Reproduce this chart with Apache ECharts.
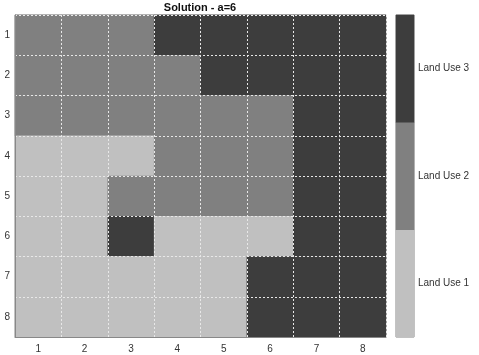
<!DOCTYPE html>
<html><head><meta charset="utf-8">
<script src="https://cdn.jsdelivr.net/npm/echarts@6/dist/echarts.min.js"></script>
<style>html,body{margin:0;padding:0;background:#fff}#c{width:479px;height:355px}</style>
</head><body><div id="c"></div>
<script>
const cols = ['1','2','3','4','5','6','7','8'];
const rows = ['1','2','3','4','5','6','7','8'];
// land use per row (row 1 at top), per column
const landUse = [
  [2,2,2,3,3,3,3,3],
  [2,2,2,2,3,3,3,3],
  [2,2,2,2,2,2,3,3],
  [1,1,1,2,2,2,3,3],
  [1,1,2,2,2,2,3,3],
  [1,1,3,1,1,1,3,3],
  [1,1,1,1,1,3,3,3],
  [1,1,1,1,1,3,3,3]
];
const levels = [1,2,3];
const levelNames = ['Land Use 1','Land Use 2','Land Use 3'];
const levelColors = ['#c0c0c0','#808080','#3d3d3d'];

const cells = [];
landUse.forEach((r,i)=>r.forEach((v,j)=>cells.push([j,i,v])));
const barCells = levels.map((v,i)=>[0,i,v]);

const font = 'Liberation Sans';
const chart = echarts.init(document.getElementById('c'));
chart.setOption({
  animation:false,
  title:{text:'Solution - a=6',left:200,top:2,padding:0,textAlign:'center',textStyle:{fontFamily:font,fontSize:11,fontWeight:'bold',color:'#111'}},
  visualMap:{type:'piecewise',show:false,seriesIndex:[0,1],
    pieces:levels.map((v,i)=>({value:v,color:levelColors[i]}))},
  grid:[
    {left:15,top:15,width:371,height:322,show:true,borderColor:'#888',borderWidth:1,backgroundColor:'transparent'},
    {left:396,top:15,width:18,height:322,show:true,borderColor:'#888',borderWidth:1,backgroundColor:'transparent'}
  ],
  xAxis:[
    {type:'category',data:cols,gridIndex:0,position:'bottom',
     axisLine:{lineStyle:{color:'#888'}},
     axisTick:{alignWithLabel:true,inside:true,length:3,lineStyle:{color:'#888'}},
     axisLabel:{fontFamily:font,fontSize:10,color:'#333',margin:7},
     splitLine:{show:true,lineStyle:{color:'#e8e8e8',type:[2,2],width:1}},z:10},
    {type:'category',data:['x'],gridIndex:1,show:false}
  ],
  yAxis:[
    {type:'category',data:rows,inverse:true,gridIndex:0,
     axisLine:{lineStyle:{color:'#888'}},
     axisTick:{alignWithLabel:true,inside:true,length:3,lineStyle:{color:'#888'}},
     axisLabel:{fontFamily:font,fontSize:10,color:'#333',margin:5},
     splitLine:{show:true,lineStyle:{color:'#e8e8e8',type:[2,2],width:1}},z:10},
    {type:'category',data:levelNames,gridIndex:1,position:'right',
     axisLine:{show:false},
     axisTick:{alignWithLabel:true,inside:true,length:3,lineStyle:{color:'#666'}},
     axisLabel:{fontFamily:font,fontSize:10,color:'#333',margin:4},
     splitLine:{show:false}}
  ],
  series:[
    {type:'heatmap',xAxisIndex:0,yAxisIndex:0,data:cells,itemStyle:{borderWidth:0}},
    {type:'heatmap',xAxisIndex:1,yAxisIndex:1,data:barCells,itemStyle:{borderWidth:0}}
  ]
});
</script></body></html>
